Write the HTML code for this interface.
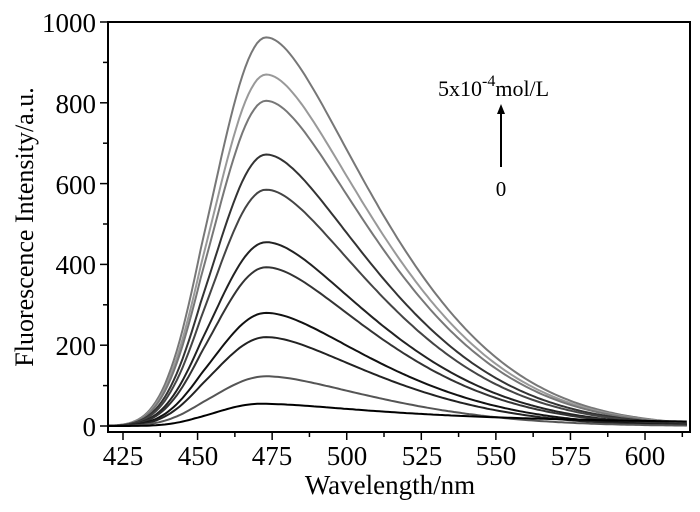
<!DOCTYPE html>
<html><head><meta charset="utf-8"><style>
html,body{margin:0;padding:0;background:#fff}
svg{display:block;font-family:"Liberation Serif",serif}
</style></head><body>
<svg id="s" width="700" height="512" viewBox="0 0 700 512" xmlns="http://www.w3.org/2000/svg">
<g id="curves" fill="none" stroke-width="2"></g>
<rect x="108" y="22" width="582" height="410" fill="none" stroke="#000" stroke-width="2"/>
<g id="ticks" stroke="#000" stroke-width="1.5"></g>
<g font-size="27" text-anchor="end">
<text x="96" y="436">0</text>
<text x="96" y="355">200</text>
<text x="96" y="274">400</text>
<text x="96" y="194">600</text>
<text x="96" y="113">800</text>
<text x="96" y="32">1000</text>
</g>
<g font-size="27" text-anchor="middle">
<text x="123" y="465">425</text><text x="198" y="465">450</text><text x="272" y="465">475</text>
<text x="347" y="465">500</text><text x="422" y="465">525</text><text x="496" y="465">550</text>
<text x="571" y="465">575</text><text x="645" y="465">600</text>
</g>
<text x="390" y="494" font-size="27" text-anchor="middle">Wavelength/nm</text>
<text transform="translate(33,227) rotate(-90)" font-size="26" text-anchor="middle">Fluorescence Intensity/a.u.</text>
<text x="438" y="96" font-size="22">5x10<tspan dy="-10" font-size="16">-4</tspan><tspan dy="10">mol/L</tspan></text>
<line x1="501" y1="167" x2="501" y2="112" stroke="#000" stroke-width="2"/>
<polygon points="501,104 497,114 505,114" fill="#000"/>
<text x="501" y="196" font-size="21" text-anchor="middle">0</text>
</svg>
<script>
var NS="http://www.w3.org/2000/svg";
function X(w){return 123+(w-425)*2.983;}
function Y(v){return 426-v*0.404;}
var t=document.getElementById("ticks");
function ln(a,b,c,d){var l=document.createElementNS(NS,"line");l.setAttribute("x1",a);l.setAttribute("y1",b);l.setAttribute("x2",c);l.setAttribute("y2",d);t.appendChild(l);}
for(var v=0;v<=1000;v+=100){ln(108,Y(v),v%200==0?100:103,Y(v));}
for(var w=425;w<=612.5;w+=12.5){ln(X(w),432,X(w),(w-425)%25==0?440:437);}
var peaks=[[962,"#777"],[870,"#999"],[805,"#777"],[672,"#333"],[585,"#444"],[455,"#222"],[393,"#333"],[280,"#111"],[220,"#222"],[123,"#555"],[55,"#000"]];
var g=document.getElementById("curves");
peaks.forEach(function(p,i){
 var A=p[0],d="";
 var low=(A<100);
 var c=low?471:473;
 for(var w=420;w<=614;w+=1){
  var x=w-c,v,s;
  if(x<0){s=(low?15:17.5)-0.12*Math.max(0,-x-22);}
  else{s=low?(30+0.35*x):(48-24*Math.exp(-x/60));}
  v=Math.exp(-x*x/(2*s*s));
  var y=A*v;
  d+=(w==420?"M":"L")+X(w).toFixed(1)+","+Y(y).toFixed(1);
 }
 var pa=document.createElementNS(NS,"path");pa.setAttribute("d",d);pa.setAttribute("stroke",p[1]);g.appendChild(pa);
});
</script>
</body></html>
